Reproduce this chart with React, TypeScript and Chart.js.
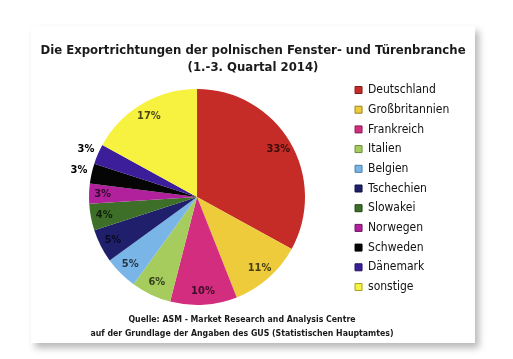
import React, { useEffect, useRef } from 'react';
import { Chart, registerables } from 'chart.js';

Chart.register(...registerables);

const countries = ['Deutschland', 'Großbritannien', 'Frankreich', 'Italien', 'Belgien', 'Tschechien', 'Slowakei', 'Norwegen', 'Schweden', 'Dänemark', 'sonstige'];
const shares = [33, 11, 10, 6, 5, 5, 4, 3, 3, 3, 17];
const sliceColors = ['#c62c27', '#eecb3b', '#d32d7f', '#a5cc5c', '#79b5e7', '#1f1f6c', '#3e6f28', '#b2219c', '#050505', '#3c1e9b', '#f7f13f'];
const legendBorderColors = ['#7e1a17', '#9c8420', '#861c50', '#6b8a3a', '#4a7ca8', '#10103f', '#234017', '#6e1360', '#000000', '#23105f', '#a8a225'];
const titleLines = ['Die Exportrichtungen der polnischen Fenster- und Türenbranche', '(1.-3. Quartal 2014)'];
const sourceLines = ['Quelle: ASM - Market Research and Analysis Centre', 'auf der Grundlage der Angaben des GUS (Statistischen Hauptamtes)'];
const outsideLabelCountries = ['Schweden', 'Dänemark'];

const FONT = '"DejaVu Sans Condensed", "DejaVu Sans", sans-serif';

const percentLabels = {
  id: 'percentLabels',
  afterDatasetsDraw(chart: any) {
    const meta = chart.getDatasetMeta(0);
    const ctx = chart.ctx;
    ctx.save();
    ctx.font = 'bold 11px ' + FONT;
    ctx.textAlign = 'center';
    ctx.textBaseline = 'middle';
    meta.data.forEach((arc: any, i: number) => {
      const p = arc.getProps(['x', 'y', 'startAngle', 'endAngle', 'outerRadius'], true);
      const mid = (p.startAngle + p.endAngle) / 2;
      const outside = outsideLabelCountries.includes(countries[i]);
      const r = p.outerRadius * (outside ? 1.12 : 0.875);
      ctx.fillStyle = outside ? '#000000' : 'rgba(0,0,0,0.7)';
      ctx.fillText(shares[i] + '%', p.x + Math.cos(mid) * r, p.y + Math.sin(mid) * r);
    });
    ctx.restore();
  },
};

const sourceNote = {
  id: 'sourceNote',
  afterDraw(chart: any) {
    const ctx = chart.ctx;
    const area = chart.chartArea;
    ctx.save();
    ctx.font = 'bold 8.7px ' + FONT;
    ctx.fillStyle = '#1a1a1a';
    ctx.textAlign = 'center';
    ctx.textBaseline = 'middle';
    sourceLines.forEach((line, i) => {
      ctx.fillText(line, 211, area.bottom + 14.5 + i * 14);
    });
    ctx.restore();
  },
};

// Small layout tweaks: legend column a little above the pie's centre, title using the full card width
const layoutTweaks = {
  id: 'layoutTweaks',
  afterLayout(chart: any) {
    const lg = chart.legend;
    if (lg) {
      lg.top = chart.chartArea.top - 30;
      lg.bottom = chart.chartArea.bottom + 13;
    }
    const tb = chart.titleBlock;
    if (tb) {
      tb.left = 0;
      tb.right = chart.width;
    }
  },
};

export default function App() {
  const ref = useRef<HTMLCanvasElement>(null);

  useEffect(() => {
    if (!ref.current) return;
    const chart = new Chart(ref.current, {
      type: 'pie',
      data: {
        labels: countries,
        datasets: [
          {
            data: shares,
            backgroundColor: sliceColors,
            borderWidth: 0,
          },
        ],
      },
      options: {
        responsive: false,
        animation: false,
        layout: { padding: { left: 15.7, right: 15.7, top: 0, bottom: 38 } },
        plugins: {
          title: {
            display: true,
            text: titleLines,
            color: '#1a1a1a',
            font: { family: FONT, size: 13, weight: 'bold', lineHeight: 1.35 },
            padding: { top: 15.7, bottom: 12.2 },
          },
          legend: {
            display: true,
            position: 'right',
            align: 'center',
            fullSize: true,
            labels: {
              boxWidth: 7,
              boxHeight: 7,
              padding: 7.7,
              color: '#111111',
              font: { family: FONT, size: 12 },
              generateLabels: (c: any) => {
                const items = (Chart as any).overrides.pie.plugins.legend.labels.generateLabels(c);
                return items.map((it: any, i: number) => ({ ...it, strokeStyle: legendBorderColors[i], lineWidth: 1 }));
              },
            },
          },
          tooltip: { enabled: false },
        },
      },
      plugins: [percentLabels, sourceNote, layoutTweaks],
    });
    return () => chart.destroy();
  }, []);

  return (
    <div style={{ position: 'fixed', left: 0, top: 0, width: 513, height: 359, background: '#ffffff' }}>
      <div
        style={{
          position: 'absolute',
          left: 31,
          top: 26,
          width: 444,
          height: 317,
          background: '#ffffff',
          boxShadow: '4px 5px 7px rgba(0,0,0,0.28)',
        }}
      >
        <canvas ref={ref} width={444} height={317} style={{ display: 'block' }} />
      </div>
    </div>
  );
}
